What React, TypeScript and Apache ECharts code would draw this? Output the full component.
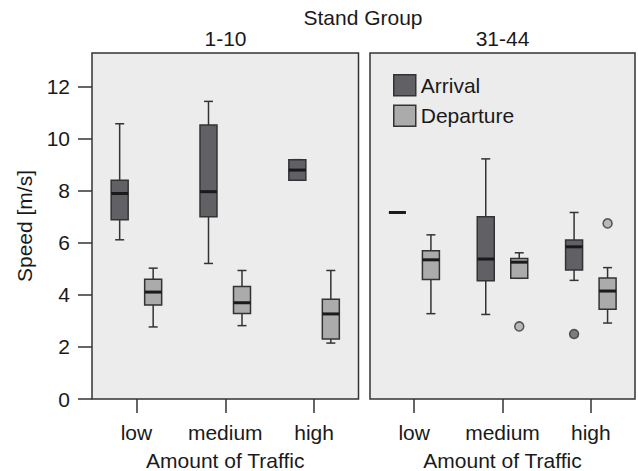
import React, { useEffect, useRef } from "react";
import * as echarts from "echarts";

const categories = ["low", "medium", "high"];
const panelTitles = ["1-10", "31-44"];
const yTicks = [0, 2, 4, 6, 8, 10, 12];

// [category index, lower whisker, Q1, median, Q3, upper whisker]
const arrival110 = [
  [0, 6.12, 6.89, 7.9, 8.41, 10.58],
  [1, 5.21, 7.01, 7.97, 10.53, 11.44],
  [2, 8.41, 8.41, 8.8, 9.2, 9.2],
];
const departure110 = [
  [0, 2.77, 3.61, 4.11, 4.6, 5.03],
  [1, 2.82, 3.29, 3.7, 4.32, 4.94],
  [2, 2.15, 2.31, 3.27, 3.83, 4.94],
];
const arrival3144 = [
  [0, 7.17, 7.17, 7.17, 7.17, 7.17],
  [1, 3.25, 4.55, 5.38, 7.01, 9.23],
  [2, 4.56, 4.96, 5.85, 6.11, 7.17],
];
const departure3144 = [
  [0, 3.28, 4.59, 5.35, 5.7, 6.31],
  [1, 4.64, 4.64, 5.26, 5.4, 5.62],
  [2, 2.92, 3.45, 4.15, 4.65, 5.05],
];
const arrivalOutliers3144 = [[2, 2.5]];
const departureOutliers3144 = [
  [1, 2.79],
  [2, 6.75],
];

const FONT = "Liberation Sans, Arial, sans-serif";
const TEXT = "#1a1a1a";
const EDGE = "#333333";
const ARR = "#616065";
const DEP = "#ababab";
const OFF = 16.75;
const BOXW = 17;
const CAPW = 9;

function makeBoxSeries(name: string, data: number[][], color: string, offset: number, idx: number) {
  return {
    type: "custom",
    name,
    xAxisIndex: idx,
    yAxisIndex: idx,
    data,
    encode: { x: 0, y: [1, 2, 3, 4, 5] },
    itemStyle: { color, borderColor: EDGE, borderWidth: 1.5 },
    renderItem: (params: any, api: any) => {
      const c = api.value(0);
      const lo = api.coord([c, api.value(1)]);
      const q1 = api.coord([c, api.value(2)]);
      const md = api.coord([c, api.value(3)]);
      const q3 = api.coord([c, api.value(4)]);
      const hi = api.coord([c, api.value(5)]);
      const cx = lo[0] + offset;
      const ls = { stroke: EDGE, lineWidth: 1.5 };
      return {
        type: "group",
        children: [
          { type: "line", shape: { x1: cx, y1: hi[1], x2: cx, y2: q3[1] }, style: ls },
          { type: "line", shape: { x1: cx, y1: q1[1], x2: cx, y2: lo[1] }, style: ls },
          { type: "line", shape: { x1: cx - CAPW / 2, y1: hi[1], x2: cx + CAPW / 2, y2: hi[1] }, style: ls },
          { type: "line", shape: { x1: cx - CAPW / 2, y1: lo[1], x2: cx + CAPW / 2, y2: lo[1] }, style: ls },
          {
            type: "rect",
            shape: { x: cx - BOXW / 2, y: q3[1], width: BOXW, height: q1[1] - q3[1] },
            style: { fill: color, stroke: EDGE, lineWidth: 1.5 },
          },
          {
            type: "line",
            shape: { x1: cx - BOXW / 2, y1: md[1], x2: cx + BOXW / 2, y2: md[1] },
            style: { stroke: "#1a1a1a", lineWidth: 3 },
          },
        ],
      };
    },
  };
}

function makeOutliers(name: string, data: number[][], color: string, offset: number, idx: number) {
  return {
    type: "scatter",
    name,
    xAxisIndex: idx,
    yAxisIndex: idx,
    data,
    symbol: "circle",
    symbolSize: 9,
    symbolOffset: [offset, 0],
    itemStyle: { color, borderColor: EDGE, borderWidth: 1.5 },
  };
}

export default function App() {
  const ref = useRef<HTMLDivElement>(null);
  useEffect(() => {
    if (!ref.current) return;
    const chart = echarts.init(ref.current, null, { renderer: "svg" });
    const grids = [
      { left: 92, top: 53, width: 266.5, bottom: 72 },
      { left: 370, top: 53, width: 265, bottom: 72 },
    ].map((g) => ({
      ...g,
      show: true,
      containLabel: false,
      outerBoundsMode: "none",
      backgroundColor: "#ececec",
      borderColor: EDGE,
      borderWidth: 1.5,
    }));
    const xAxes = [0, 1].map((i) => ({
      type: "category",
      gridIndex: i,
      data: categories,
      boundaryGap: true,
      axisLine: { show: false },
      axisTick: { show: true, interval: 0, alignWithLabel: true, length: 14, lineStyle: { color: EDGE, width: 1.5 } },
      axisLabel: { interval: 0, color: TEXT, fontSize: 21, fontFamily: FONT, margin: 23, hideOverlap: false },
      name: "Amount of Traffic",
      nameLocation: "middle",
      nameGap: 51,
      nameTextStyle: { color: TEXT, fontSize: 21, fontFamily: FONT },
    }));
    const yAxes = [0, 1].map((i) => ({
      type: "value",
      gridIndex: i,
      min: 0,
      max: 13.3,
      interval: 2,
      show: i === 0,
      splitLine: { show: false },
      axisLine: { show: false },
      axisTick: { show: true, length: 14, customValues: yTicks, lineStyle: { color: EDGE, width: 1.5 } },
      axisLabel: { color: TEXT, fontSize: 21, fontFamily: FONT, margin: 22, customValues: yTicks },
      name: i === 0 ? "Speed [m/s]" : "",
      nameLocation: "middle",
      nameGap: 57,
      nameRotate: 90,
      nameTextStyle: { color: TEXT, fontSize: 21, fontFamily: FONT },
    }));
    chart.setOption({
      animation: false,
      grid: grids,
      xAxis: xAxes,
      yAxis: yAxes,
      legend: {
        left: 388,
        top: 69,
        orient: "vertical",
        itemWidth: 22,
        itemHeight: 21,
        itemGap: 8,
        selectedMode: false,
        icon: "rect",
        textStyle: { color: TEXT, fontSize: 21, fontFamily: FONT },
        data: [
          { name: "Arrival", itemStyle: { color: ARR, borderColor: EDGE, borderWidth: 1.5 } },
          { name: "Departure", itemStyle: { color: DEP, borderColor: EDGE, borderWidth: 1.5 } },
        ],
      },
      graphic: [
        {
          type: "text",
          x: 363,
          y: 17,
          style: { text: "Stand Group", fill: TEXT, font: `21px ${FONT}`, textAlign: "center", textVerticalAlign: "middle" },
        },
        {
          type: "text",
          x: 225.5,
          y: 38,
          style: { text: panelTitles[0], fill: TEXT, font: `21px ${FONT}`, textAlign: "center", textVerticalAlign: "middle" },
        },
        {
          type: "text",
          x: 502.5,
          y: 38,
          style: { text: panelTitles[1], fill: TEXT, font: `21px ${FONT}`, textAlign: "center", textVerticalAlign: "middle" },
        },
      ],
      series: [
        makeBoxSeries("Arrival", arrival110, ARR, -OFF, 0),
        makeBoxSeries("Departure", departure110, DEP, OFF, 0),
        makeBoxSeries("Arrival", arrival3144, ARR, -OFF, 1),
        makeBoxSeries("Departure", departure3144, DEP, OFF, 1),
        makeOutliers("Arrival", arrivalOutliers3144, ARR, -OFF, 1),
        makeOutliers("Departure", departureOutliers3144, DEP, OFF, 1),
      ],
    });
    return () => chart.dispose();
  }, []);
  return <div ref={ref} style={{ position: "absolute", left: 0, top: 0, width: 638, height: 471 }} />;
}
